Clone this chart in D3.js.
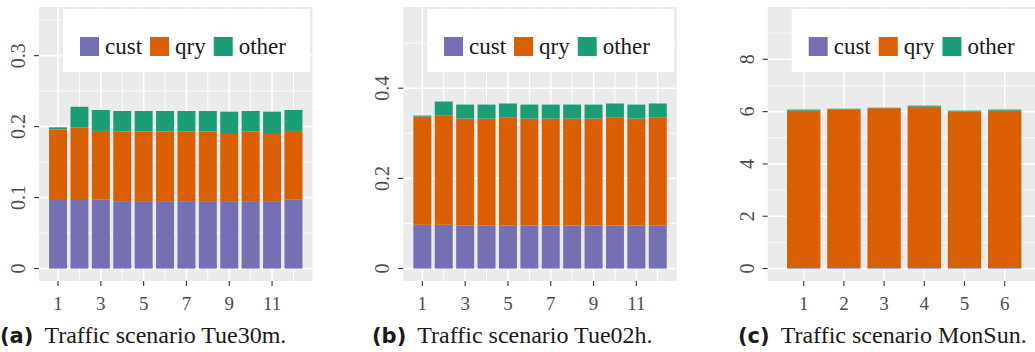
<!DOCTYPE html>
<html>
<head>
<meta charset="utf-8">
<script src="https://cdn.jsdelivr.net/npm/d3@7"></script>
</head>
<body style="margin:0">
<svg id="chart" width="1035" height="352"></svg>
<script>
// series names and colours (Dark2)
const seriesNames = ["cust", "qry", "other"];
const seriesColors = ["#7570b3", "#d95f02", "#1b9e77"];

// (a) Tue30m
const runsA = [1, 2, 3, 4, 5, 6, 7, 8, 9, 10, 11, 12];
const custA = [0.098, 0.098, 0.097, 0.095, 0.095, 0.095, 0.095, 0.095, 0.095, 0.095, 0.095, 0.097];
const qryA = [0.098, 0.101, 0.097, 0.098, 0.098, 0.098, 0.098, 0.098, 0.096, 0.098, 0.096, 0.097];
const otherA = [0.003, 0.029, 0.0295, 0.029, 0.029, 0.029, 0.029, 0.029, 0.030, 0.029, 0.030, 0.0295];
const xTicksA = [1, 3, 5, 7, 9, 11];
const yTicksA = [0, 0.1, 0.2, 0.3];
const yMinorA = [0.05, 0.15, 0.25, 0.35];

// (b) Tue02h
const runsB = [1, 2, 3, 4, 5, 6, 7, 8, 9, 10, 11, 12];
const custB = [0.097, 0.097, 0.0956, 0.0956, 0.0956, 0.0956, 0.0956, 0.0956, 0.0956, 0.0956, 0.0956, 0.0956];
const qryB = [0.240, 0.243, 0.237, 0.237, 0.240, 0.237, 0.237, 0.237, 0.237, 0.240, 0.237, 0.240];
const otherB = [0.0023, 0.0304, 0.0311, 0.0311, 0.0304, 0.0311, 0.0311, 0.0311, 0.0311, 0.0304, 0.0311, 0.0304];
const xTicksB = [1, 3, 5, 7, 9, 11];
const yTicksB = [0, 0.2, 0.4];
const yMinorB = [0.1, 0.3, 0.5];

// (c) MonSun
const runsC = [1, 2, 3, 4, 5, 6];
const custC = [0.06, 0.06, 0.06, 0.06, 0.06, 0.06];
const qryC = [5.98, 6.03, 6.07, 6.13, 5.95, 5.98];
const otherC = [0.04, 0.02, 0.02, 0.04, 0.03, 0.04];
const xTicksC = [1, 2, 3, 4, 5, 6];
const yTicksC = [0, 2, 4, 6, 8];
const yMinorC = [1, 3, 5, 7, 9];

const captions = [
  { tag: "(a)", text: "Traffic scenario Tue30m." },
  { tag: "(b)", text: "Traffic scenario Tue02h." },
  { tag: "(c)", text: "Traffic scenario MonSun." }
];

const svg = d3.select("#chart");

// text with forced font settings
function addText(parent, str, x, y, size, family, fill, anchor, transform, weight) {
  const t = parent.append("text");
  if (transform) t.attr("transform", transform);
  else t.attr("x", x).attr("y", y);
  t.attr("fill", fill);
  if (anchor) t.attr("text-anchor", anchor);
  t.style("font-family", family, "important")
    .style("font-size", size + "px", "important")
    .style("font-weight", weight || "normal", "important")
    .style("font-style", "normal", "important");
  t.text(str);
  return t.node();
}

function drawPanel(opt) {
  const top = 7, bottom = 281;
  const x = d3.scaleLinear().domain(opt.xDomain).range([opt.left, opt.right]);
  const y = d3.scaleLinear().domain([-0.05 * opt.ylim, 1.05 * opt.ylim]).range([bottom, top]);
  const g = svg.append("g");

  g.append("rect")
    .attr("x", opt.left).attr("y", top)
    .attr("width", opt.right - opt.left).attr("height", bottom - top)
    .attr("fill", "#ebebeb");

  const clipId = "clip" + opt.id;
  g.append("clipPath").attr("id", clipId).append("rect")
    .attr("x", opt.left).attr("y", top)
    .attr("width", opt.right - opt.left).attr("height", bottom - top);
  const inner = g.append("g").attr("clip-path", `url(#${clipId})`);

  // grid
  inner.selectAll(".hminor").data(opt.yMinor).enter().append("line")
    .attr("x1", opt.left).attr("x2", opt.right)
    .attr("y1", d => y(d)).attr("y2", d => y(d))
    .attr("stroke", "#fff").attr("stroke-width", 0.8);
  inner.selectAll(".hmajor").data(opt.yTicks).enter().append("line")
    .attr("x1", opt.left).attr("x2", opt.right)
    .attr("y1", d => y(d)).attr("y2", d => y(d))
    .attr("stroke", "#fff").attr("stroke-width", 1.6);
  inner.selectAll(".vgrid").data(opt.runs).enter().append("line")
    .attr("x1", d => x(d)).attr("x2", d => x(d))
    .attr("y1", top).attr("y2", bottom)
    .attr("stroke", "#fff")
    .attr("stroke-width", d => opt.xTicks.includes(d) ? 1.6 : 1.0);

  // stacked bars
  const rows = opt.runs.map((r, i) => ({ run: r, cust: opt.cust[i], qry: opt.qry[i], other: opt.other[i] }));
  const stack = d3.stack().keys(seriesNames)(rows);
  const bw = x(opt.runs[0] + opt.barWidth / 2) - x(opt.runs[0] - opt.barWidth / 2);
  stack.forEach((layer, k) => {
    inner.selectAll(".bar" + k).data(layer).enter().append("rect")
      .attr("x", d => x(d.data.run) - bw / 2)
      .attr("width", bw)
      .attr("y", d => y(d[1]))
      .attr("height", d => y(d[0]) - y(d[1]))
      .attr("fill", seriesColors[k]);
  });

  // legend
  const lg = inner.append("g");
  lg.append("rect")
    .attr("x", opt.legendX).attr("y", 9)
    .attr("width", 247).attr("height", 63)
    .attr("fill", "#fff");
  let lx = opt.legendX + 17;
  seriesNames.forEach((name, k) => {
    lg.append("rect")
      .attr("x", lx).attr("y", 37).attr("width", 19).attr("height", 19)
      .attr("fill", seriesColors[k]);
    const t = addText(lg, name, lx + 25, 54, 23, '"Liberation Serif"', "#1a1a1a");
    lx += 25 + t.getComputedTextLength() + 8;
  });

  // axes ticks
  g.selectAll(".ytick").data(opt.yTicks).enter().append("line")
    .attr("x1", opt.left - 5).attr("x2", opt.left)
    .attr("y1", d => y(d)).attr("y2", d => y(d))
    .attr("stroke", "#333").attr("stroke-width", 1.1);
  opt.yTicks.forEach(d => {
    addText(g, d3.format("~g")(d), 0, 0, 20, '"Liberation Serif"', "#4d4d4d", "middle",
      `translate(${opt.left - 14},${y(d)}) rotate(-90)`);
  });
  g.selectAll(".xtick").data(opt.xTicks).enter().append("line")
    .attr("x1", d => x(d)).attr("x2", d => x(d))
    .attr("y1", bottom).attr("y2", bottom + 5)
    .attr("stroke", "#333").attr("stroke-width", 1.1);
  opt.xTicks.forEach(d => {
    addText(g, String(d), x(d), 310, 19, '"Liberation Serif"', "#4d4d4d", "middle");
  });

  // caption
  const tag = addText(g, opt.caption.tag, opt.capX, 343, 21, '"DejaVu Sans"', "#1a1a1a", null, null, "bold");
  addText(g, opt.caption.text, opt.capX + tag.getComputedTextLength() + 11, 343, 24, '"Liberation Serif"', "#1a1a1a");
}

drawPanel({ id: "a", left: 39, right: 312.5, xDomain: [0.11, 12.89], ylim: 0.351,
  runs: runsA, cust: custA, qry: qryA, other: otherA, xTicks: xTicksA, yTicks: yTicksA, yMinor: yMinorA,
  barWidth: 0.84, legendX: 63, capX: 0, caption: captions[0] });
drawPanel({ id: "b", left: 403.3, right: 676.8, xDomain: [0.11, 12.89], ylim: 0.5525,
  runs: runsB, cust: custB, qry: qryB, other: otherB, xTicks: xTicksB, yTicks: yTicksB, yMinor: yMinorB,
  barWidth: 0.84, legendX: 427, capX: 372, caption: captions[1] });
drawPanel({ id: "c", left: 767.7, right: 1040.7, xDomain: [0.104, 6.896], ylim: 9.524,
  runs: runsC, cust: custC, qry: qryC, other: otherC, xTicks: xTicksC, yTicks: yTicksC, yMinor: yMinorC,
  barWidth: 0.83, legendX: 791.7, capX: 738, caption: captions[2] });
</script>
</body>
</html>
